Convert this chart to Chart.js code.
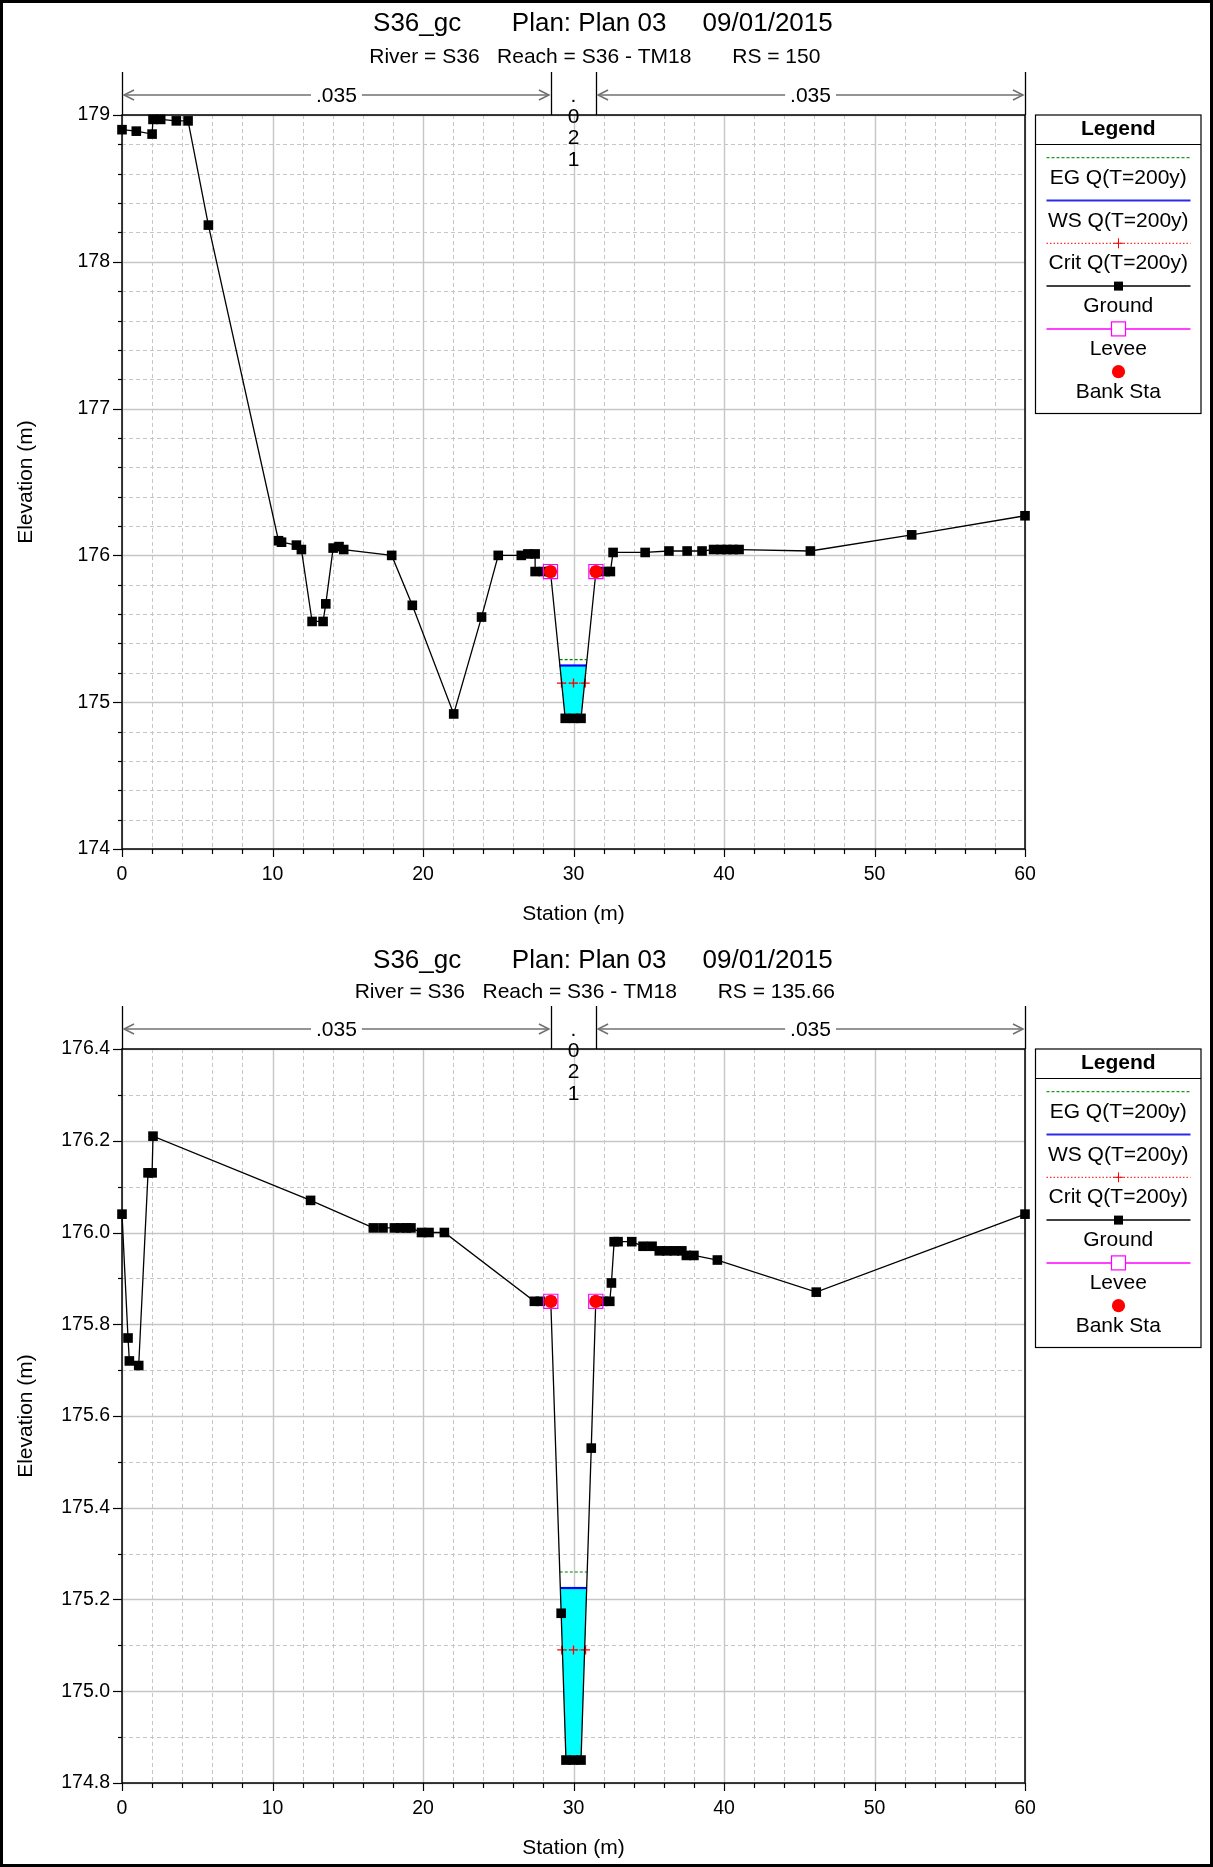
<!DOCTYPE html>
<html>
<head>
<meta charset="utf-8">
<script src="https://cdn.jsdelivr.net/npm/chart.js@4.4.1/dist/chart.umd.min.js"></script>
<style>
html, body { margin: 0; padding: 0; background: #fff; }
#page { width: 1213px; height: 1867px; box-sizing: border-box; border: 3px solid #000; position: relative; background: #fff; }
#p1, #p2 { position: absolute; left: 0; }
#p1 { top: 0; }
#p2 { top: 934px; }
canvas { display: block; }
</style>
</head>
<body>
<div id="page">
  <div id="p1"><canvas id="c1" width="1207" height="934"></canvas></div>
  <div id="p2"><canvas id="c2" width="1207" height="927"></canvas></div>
</div>
<script>
const FONT = "'Liberation Sans', Arial, Helvetica, sans-serif";

// trailing spaces nudge the centred text a little left, like the original
const planTitle = 'S36_gc       Plan: Plan 03     09/01/2015 ';
const sub150 = 'River = S36   Reach = S36 - TM18       RS = 150    ';
const sub135 = 'River = S36   Reach = S36 - TM18       RS = 135.66    ';

// Manning's n, same for both sections
const nStations = [0, 28.5, 31.5, 60];
const nValues = ['.035', '.021', '.035'];

const xLabels = [0, 10, 20, 30, 40, 50, 60];
const yLabels150 = [174, 175, 176, 177, 178, 179];
const yLabels135 = [174.8, 175.0, 175.2, 175.4, 175.6, 175.8, 176.0, 176.2, 176.4];

// RS = 150
const groundX150 = [0, 0.95, 2.0, 2.06, 2.57, 3.61, 4.39, 5.74, 10.4, 10.6, 11.59, 11.92, 12.63, 13.36, 13.54, 14.03, 14.42, 14.73,
  17.92, 19.29, 22.04, 23.89, 25.0, 26.53, 26.97, 27.45, 27.45, 28.0, 28.47, 29.45, 30.0, 30.5, 31.49, 32.1, 32.45, 32.63, 34.76, 36.34,
  37.55, 38.54, 39.31, 39.8, 40.2, 40.6, 41.0, 45.74, 52.47, 60];
const groundY150 = [178.90, 178.89, 178.87, 178.97, 178.97, 178.96, 178.96, 178.25, 176.10, 176.09, 176.07, 176.04, 175.55, 175.55, 175.67, 176.05, 176.06, 176.04,
  176.00, 175.66, 174.92, 175.58, 176.00, 176.00, 176.01, 176.01, 175.89, 175.89, 175.89, 174.89, 174.89, 174.89, 175.89, 175.89, 175.89, 176.02, 176.02, 176.03,
  176.03, 176.03, 176.04, 176.04, 176.04, 176.04, 176.04, 176.03, 176.14, 176.27];
const bankX150 = [28.47, 31.49];
const bankY150 = [175.89, 175.89];
const egX150 = [29.08, 30.87];
const egY150 = [175.29, 175.29];
const wsX150 = [29.07, 30.86];
const wsY150 = [175.25, 175.25];
const critX150 = [29.2, 30.0, 30.78];
const critY150 = [175.13, 175.13, 175.13];
const waterX150 = [29.07, 30.86, 30.5, 29.45];
const waterY150 = [175.25, 175.25, 174.89, 174.89];

// RS = 135.66
const groundX135 = [0, 0.40, 0.49, 1.11, 1.73, 2.0, 2.06, 12.53, 16.70, 17.34, 18.1, 18.5, 18.9, 19.2, 19.9, 20.4, 21.42, 27.4, 27.8, 28.49,
  29.18, 29.5, 30.0, 30.5, 31.18, 31.48, 32.0, 32.41, 32.52, 32.7, 32.96, 33.87, 34.62, 35.22, 35.7, 36.2, 36.7, 37.2, 37.5, 38.0,
  39.56, 46.13, 60];
const groundY135 = [176.04, 175.77, 175.72, 175.71, 176.13, 176.13, 176.21, 176.07, 176.01, 176.01, 176.01, 176.01, 176.01, 176.01, 176.00, 176.00, 176.00, 175.85, 175.85, 175.85,
  175.17, 174.85, 174.85, 174.85, 175.53, 175.85, 175.85, 175.85, 175.89, 175.98, 175.98, 175.98, 175.97, 175.97, 175.96, 175.96, 175.96, 175.96, 175.95, 175.95,
  175.94, 175.87, 176.04];
const bankX135 = [28.49, 31.48];
const bankY135 = [175.85, 175.85];
const egX135 = [29.09, 30.92];
const egY135 = [175.26, 175.26];
const wsX135 = [29.12, 30.88];
const wsY135 = [175.225, 175.225];
const critX135 = [29.22, 30.0, 30.8];
const critY135 = [175.09, 175.09, 175.09];
const waterX135 = [29.12, 30.88, 30.5, 29.5, 29.18];
const waterY135 = [175.225, 175.225, 174.85, 174.85, 175.17];

function pts(xs, ys) {
  return xs.map((v, i) => ({ x: v, y: ys[i] }));
}

function line(ctx, x1, y1, x2, y2) {
  ctx.beginPath();
  ctx.moveTo(x1, y1);
  ctx.lineTo(x2, y2);
  ctx.stroke();
}

function gridLine(ctx, major, x1, y1, x2, y2) {
  ctx.strokeStyle = '#c6c6c6';
  ctx.lineWidth = major ? 1.4 : 1;
  ctx.setLineDash(major ? [] : [4, 3]);
  line(ctx, x1, y1, x2, y2);
}

function drawNBand(ctx, x, a) {
  const yTop = a.top - 43, yA = a.top - 20;
  ctx.setLineDash([]);
  ctx.strokeStyle = '#000';
  ctx.lineWidth = 1.3;
  nStations.forEach(s => {
    const px = Math.round(x.getPixelForValue(s)) + 0.5;
    line(ctx, px, yTop, px, a.top);
  });
  ctx.font = '21px ' + FONT;
  ctx.textAlign = 'center';
  ctx.textBaseline = 'middle';
  ctx.fillStyle = '#000';
  for (let i = 0; i < nValues.length; i++) {
    const x0 = x.getPixelForValue(nStations[i]) + 2;
    const x1 = x.getPixelForValue(nStations[i + 1]) - 2;
    const cx = (x0 + x1) / 2;
    const w = ctx.measureText(nValues[i]).width;
    if (x1 - x0 > w + 40) {
      ctx.strokeStyle = '#707070';
      ctx.lineWidth = 1.5;
      line(ctx, x0, yA, cx - w / 2 - 5, yA);
      line(ctx, cx + w / 2 + 5, yA, x1, yA);
      ctx.beginPath();
      ctx.moveTo(x0 + 10, yA - 5); ctx.lineTo(x0, yA); ctx.lineTo(x0 + 10, yA + 5);
      ctx.moveTo(x1 - 10, yA - 5); ctx.lineTo(x1, yA); ctx.lineTo(x1 - 10, yA + 5);
      ctx.stroke();
      ctx.fillText(nValues[i], cx, yA + 1);
    } else {
      // too narrow: write the value downwards
      [...nValues[i]].forEach((ch, k) => ctx.fillText(ch, cx, yA + 1 + k * 21.3));
    }
  }
}

function drawSymbol(ctx, kind, x0, x1, y) {
  const mx = (x0 + x1) / 2;
  ctx.setLineDash([]);
  if (kind === 'eg') {
    ctx.strokeStyle = '#1c9a1c'; ctx.lineWidth = 1.3; ctx.setLineDash([3, 2]);
    line(ctx, x0, y, x1, y);
  } else if (kind === 'ws') {
    ctx.strokeStyle = '#2a2ae8'; ctx.lineWidth = 2;
    line(ctx, x0, y, x1, y);
  } else if (kind === 'crit') {
    ctx.strokeStyle = '#ff0000'; ctx.lineWidth = 1; ctx.setLineDash([1.5, 2]);
    line(ctx, x0, y, x1, y);
    ctx.setLineDash([]);
    line(ctx, mx - 5, y, mx + 5, y);
    line(ctx, mx, y - 5, mx, y + 5);
  } else if (kind === 'ground') {
    ctx.strokeStyle = '#000'; ctx.lineWidth = 1.5;
    line(ctx, x0, y, x1, y);
    ctx.fillStyle = '#000';
    ctx.fillRect(mx - 4.5, y - 4.5, 9, 9);
  } else if (kind === 'levee') {
    ctx.strokeStyle = '#ff00ff'; ctx.lineWidth = 1.5;
    line(ctx, x0, y, x1, y);
    ctx.fillStyle = '#fff';
    ctx.fillRect(mx - 7, y - 7, 14, 14);
    ctx.lineWidth = 1.2;
    ctx.strokeRect(mx - 7, y - 7, 14, 14);
  } else if (kind === 'bank') {
    ctx.fillStyle = '#ff0000';
    ctx.beginPath(); ctx.arc(mx, y, 6.6, 0, Math.PI * 2); ctx.fill();
  }
}

function drawLegend(ctx, chart, a) {
  const L = 1032.5, R = 1198, T = a.top, B = T + 298.5;
  ctx.setLineDash([]);
  ctx.fillStyle = '#fff';
  ctx.fillRect(L, T, R - L, B - T);
  ctx.strokeStyle = '#000';
  ctx.lineWidth = 1.2;
  ctx.strokeRect(L, T, R - L, B - T);
  line(ctx, L, T + 29.5, R, T + 29.5);
  const cx = (L + R) / 2;
  ctx.textAlign = 'center';
  ctx.textBaseline = 'middle';
  ctx.fillStyle = '#000';
  ctx.font = 'bold 21px ' + FONT;
  ctx.fillText('Legend', cx, T + 14);
  const entries = chart.data.datasets.filter(d => d.legendKind);
  entries.forEach((ds, i) => {
    const ly = T + 42.7 + i * 42.8;
    drawSymbol(ctx, ds.legendKind, L + 11, R - 10.5, ly);
    ctx.fillStyle = '#000';
    ctx.font = '21px ' + FONT;
    ctx.fillText(ds.label, cx, ly + 20.3);
  });
}

const hecPlot = {
  id: 'hecPlot',
  beforeDatasetsDraw(chart) {
    const { ctx, chartArea: a, scales: { x, y } } = chart;
    ctx.save();
    for (const t of x.ticks) {
      const px = Math.round(x.getPixelForValue(t.value)) + 0.5;
      gridLine(ctx, t.label !== '', px, a.top, px, a.bottom);
    }
    for (const t of y.ticks) {
      const py = Math.round(y.getPixelForValue(t.value)) + 0.5;
      gridLine(ctx, t.label !== '', a.left, py, a.right, py);
    }
    ctx.restore();
  },
  afterDraw(chart) {
    const { ctx, chartArea: a, scales: { x, y } } = chart;
    ctx.save();
    ctx.setLineDash([]);
    ctx.strokeStyle = '#000';
    ctx.lineWidth = 1.5;
    ctx.strokeRect(a.left, a.top, a.right - a.left, a.bottom - a.top);
    ctx.lineWidth = 1.2;
    for (const t of x.ticks) {
      const px = Math.round(x.getPixelForValue(t.value)) + 0.5;
      line(ctx, px, a.bottom, px, a.bottom + (t.label !== '' ? 8 : 5));
    }
    for (const t of y.ticks) {
      const py = Math.round(y.getPixelForValue(t.value)) + 0.5;
      line(ctx, a.left, py, a.left - (t.label !== '' ? 9 : 4), py);
    }
    drawNBand(ctx, x, a);
    drawLegend(ctx, chart, a);
    ctx.restore();
  }
};

function makeChart(id, s) {
  const H = document.getElementById(id).height;
  const labelFor = (list, digits) => v => {
    const hit = list.find(m => Math.abs(m - v) < 1e-6);
    return hit === undefined ? '' : hit.toFixed(digits);
  };
  return new Chart(document.getElementById(id), {
    type: 'line',
    data: {
      datasets: [
        { label: 'water', data: pts(s.waterX, s.waterY), fill: 'shape', backgroundColor: '#00ffff',
          borderColor: 'rgba(0,0,0,0)', borderWidth: 1, pointRadius: 0, order: 10 },
        { label: 'EG Q(T=200y)', legendKind: 'eg', data: pts(s.egX, s.egY), borderColor: '#008000',
          borderWidth: 1.2, borderDash: [3, 2], pointRadius: 0, order: 9 },
        { label: 'WS Q(T=200y)', legendKind: 'ws', data: pts(s.wsX, s.wsY), borderColor: '#0000ff',
          borderWidth: 2.2, pointRadius: 0, order: 8 },
        { label: 'Crit Q(T=200y)', legendKind: 'crit', data: pts(s.critX, s.critY), borderColor: '#ff0000',
          borderWidth: 1, borderDash: [1.5, 2], pointStyle: 'cross', pointRadius: 4.5,
          pointBorderColor: '#ff0000', pointBorderWidth: 1.3, order: 7 },
        { label: 'Ground', legendKind: 'ground', data: pts(s.groundX, s.groundY), borderColor: '#000',
          borderWidth: 1.3, pointStyle: 'rect', pointRadius: 6.8, pointBackgroundColor: '#000',
          pointBorderWidth: 0, clip: false, order: 5 },
        { label: 'Levee', legendKind: 'levee', data: pts(s.bankX, s.bankY), showLine: false,
          pointStyle: 'rect', pointRadius: 10, pointBackgroundColor: 'rgba(0,0,0,0)',
          pointBorderColor: '#ff00ff', pointBorderWidth: 1.2, order: 3 },
        { label: 'Bank Sta', legendKind: 'bank', data: pts(s.bankX, s.bankY), showLine: false,
          pointStyle: 'circle', pointRadius: 6.6, pointBackgroundColor: '#ff0000',
          pointBorderWidth: 0, order: 2 }
      ]
    },
    options: {
      responsive: false,
      animation: false,
      events: [],
      layout: { padding: 0 },
      elements: { line: { tension: 0 } },
      plugins: {
        legend: { display: false },
        tooltip: { enabled: false },
        title: { display: true, text: planTitle, color: '#000',
          font: { family: FONT, size: 26, weight: 'normal' }, padding: { top: s.titleTop, bottom: 0 } },
        subtitle: { display: true, text: s.subtitle, color: '#000',
          font: { family: FONT, size: 21, weight: 'normal' },
          padding: { top: s.subTop, bottom: 112 - 31.2 - 25.2 - s.titleTop - s.subTop } }
      },
      scales: {
        x: {
          type: 'linear', position: 'bottom', min: 0, max: 60,
          grid: { display: false, drawTicks: false }, border: { display: false },
          ticks: { stepSize: 2, autoSkip: false, maxRotation: 0, padding: 13.5, color: '#000',
            font: { family: FONT, size: 19.5 }, callback: labelFor(xLabels, 0) },
          title: { display: true, text: 'Station (m)', color: '#000',
            font: { family: FONT, size: 21 }, padding: { top: 0, bottom: H - 911.5 - 12.6 } },
          afterFit: sc => { sc.height = H - 846; }
        },
        y: {
          type: 'linear', position: 'left', min: s.ymin, max: s.ymax,
          grid: { display: false, drawTicks: false }, border: { display: false },
          ticks: { stepSize: s.ystep, autoSkip: false, padding: 12, color: '#000',
            font: { family: FONT, size: 19.5 }, callback: labelFor(s.yLabels, s.digits) },
          title: { display: true, text: 'Elevation (m)', color: '#000',
            font: { family: FONT, size: 21 }, padding: { top: 10.4, bottom: 0 } },
          afterFit: sc => { sc.width = 119; }
        },
        yr: {
          type: 'linear', position: 'right', display: true,
          grid: { display: false, drawTicks: false }, border: { display: false }, ticks: { display: false },
          afterFit: sc => { sc.width = 185; }
        }
      }
    },
    plugins: [hecPlot]
  });
}

makeChart('c1', {
  subtitle: sub150, titleTop: 5.4, subTop: 5.4,
  ymin: 174, ymax: 179, ystep: 0.2, yLabels: yLabels150, digits: 0,
  groundX: groundX150, groundY: groundY150, bankX: bankX150, bankY: bankY150,
  egX: egX150, egY: egY150, wsX: wsX150, wsY: wsY150, critX: critX150, critY: critY150,
  waterX: waterX150, waterY: waterY150
});

makeChart('c2', {
  subtitle: sub135, titleTop: 7.8, subTop: 3.4,
  ymin: 174.8, ymax: 176.4, ystep: 0.1, yLabels: yLabels135, digits: 1,
  groundX: groundX135, groundY: groundY135, bankX: bankX135, bankY: bankY135,
  egX: egX135, egY: egY135, wsX: wsX135, wsY: wsY135, critX: critX135, critY: critY135,
  waterX: waterX135, waterY: waterY135
});
</script>
</body>
</html>
